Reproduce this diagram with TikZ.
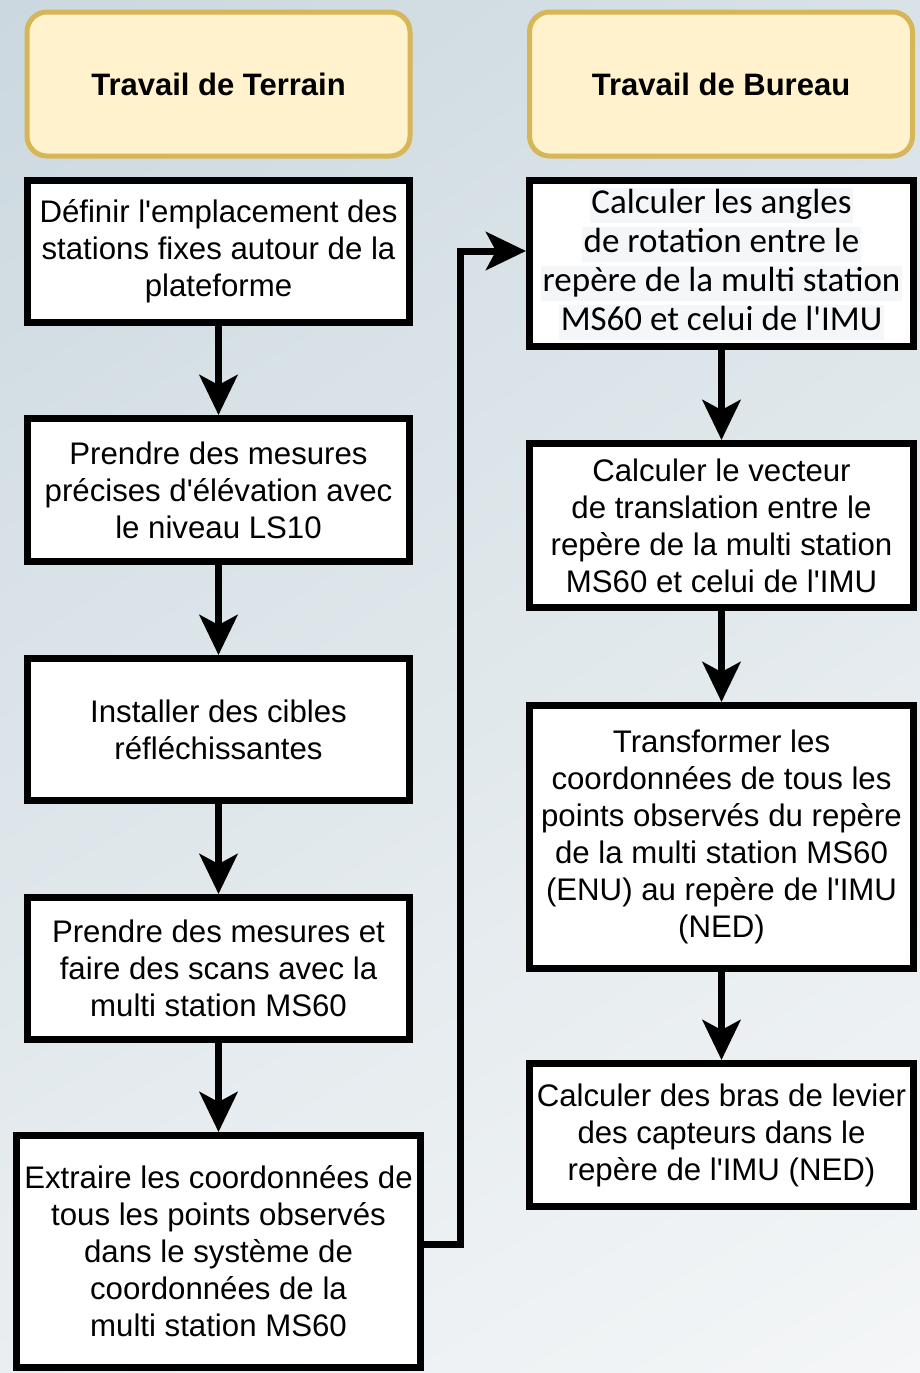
\documentclass[tikz,border=0pt]{standalone}
\usepackage{fontspec}
\setmainfont{Liberation Sans}
\newfontfamily\carlito{Carlito}
\usetikzlibrary{arrows.meta,shadings}
\definecolor{hdrfill}{HTML}{FFF2CC}
\definecolor{hdrdraw}{HTML}{D6B656}
\definecolor{hl}{HTML}{F4F6F8}
\definecolor{bgA}{HTML}{CBD8DF}
\definecolor{bgB}{HTML}{D8E2E7}
\definecolor{bgC}{HTML}{E9EEF1}
\definecolor{bgD}{HTML}{F4F6F7}
\newcommand{\ap}{\textquotesingle}
\newcommand{\hlline}[1]{{\setlength{\fboxsep}{1.5pt}\colorbox{hl}{\rule[-7.5pt]{0pt}{32pt}#1}}}
\begin{document}
\begin{tikzpicture}[x=1pt,y=-1pt,
  hdr/.style={draw=hdrdraw, fill=hdrfill, line width=5pt, rounded corners=20pt,
    minimum width=383pt, minimum height=144pt, inner sep=0pt,
    font=\bfseries\fontsize{31}{37}\selectfont},
  stepbox/.style={draw=black, fill=white, line width=7pt, align=center, inner sep=0pt,
    font=\fontsize{31.2}{37}\selectfont},
  flow/.style={line width=7pt, -{Stealth[length=40pt,width=38pt,inset=10pt]}}]
\shade[upper left=bgA, upper right=bgB, lower left=bgC, lower right=bgD] (0,0) rectangle (920,1373);
\useasboundingbox (0,0) rectangle (920,1373);

\node[hdr] (h1) at (218.5,84) {Travail de Terrain};
\node[hdr] (h2) at (721,84) {Travail de Bureau};

\node[stepbox, minimum width=382pt, minimum height=142pt] (b1) at (218.5,251.5)
  {\raisebox{-3pt}{}Définir l\ap emplacement des\\stations fixes autour de la\\plateforme};
\node[stepbox, minimum width=382pt, minimum height=143pt] (b2) at (218.5,490)
  {Prendre des mesures\\précises d\ap élévation avec\\le niveau LS10};
\node[stepbox, minimum width=382pt, minimum height=142pt] (b3) at (218.5,729.5)
  {Installer des cibles\\réfléchissantes};
\node[stepbox, minimum width=382pt, minimum height=142pt] (b4) at (218.5,968.5)
  {Prendre des mesures et\\faire des scans avec la\\multi station MS60};
\node[stepbox, minimum width=404pt, minimum height=232pt] (b5) at (218.5,1251.5)
  {Extraire les coordonnées de\\tous les points observés\\dans le système de\\coordonnées de la\\multi station MS60};

\node[stepbox, minimum width=384pt, minimum height=166pt,
  font=\carlito\fontsize{35}{39}\selectfont] (r1) at (721.5,263.5)
  {\hlline{Calculer les angles}\\\hlline{de rotation entre le}\\\hlline{repère de la multi station}\\\hlline{MS60 et celui de l\ap IMU}};
\node[stepbox, minimum width=384pt, minimum height=164pt] (r2) at (721.5,525.5)
  {Calculer le vecteur\\de translation entre le\\repère de la multi station\\MS60 et celui de l\ap IMU};
\node[stepbox, minimum width=384pt, minimum height=263pt] (r3) at (721.5,837)
  {Transformer les\\coordonnées de tous les\\points observés du repère\\de la multi station MS60\\(ENU) au repère de l\ap IMU\\(NED)};
\node[stepbox, minimum width=384pt, minimum height=143pt] (r4) at (721.5,1135)
  {Calculer des bras de levier\\des capteurs dans le\\repère de l\ap IMU (NED)};

\draw[flow] (b1) -- (b2);
\draw[flow] (b2) -- (b3);
\draw[flow] (b3) -- (b4);
\draw[flow] (b4) -- (b5);
\draw[flow] (r1) -- (r2);
\draw[flow] (r2) -- (r3);
\draw[flow] (r3) -- (r4);

\coordinate (c1) at (460,1244);
\coordinate (c2) at (460,251);
\draw[flow] (b5.east |- c1) -- (c1) -- (c2) -- (r1.west |- c2);
\end{tikzpicture}
\end{document}
